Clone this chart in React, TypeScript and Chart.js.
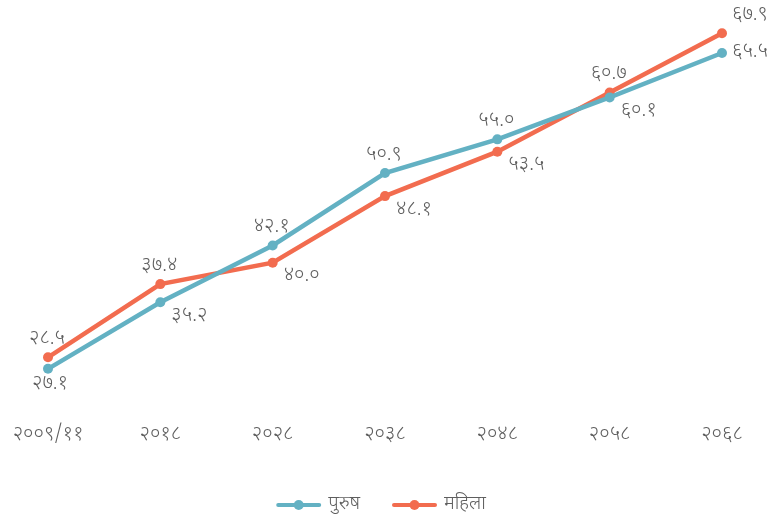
import React, { useEffect, useRef } from "react";
import { Chart, registerables } from "chart.js";

Chart.register(...registerables);

const categories = ["२००९/११", "२०१८", "२०२८", "२०३८", "२०४८", "२०५८", "२०६८"];
const seriesNames = ["पुरुष", "महिला"];
const maleValues = [27.1, 35.2, 42.1, 50.9, 55.0, 60.1, 65.5];
const femaleValues = [28.5, 37.4, 40.0, 48.1, 53.5, 60.7, 67.9];

const TEAL = "#63b1c3";
const ORANGE = "#f26c4f";
const TEXT = "#5e5e5e";
const FONT = "'Noto Sans Devanagari', 'Lohit Devanagari', Lato, 'Noto Sans', sans-serif";

const devDigits = "०१२३४५६७८९";
const toDev = (v: number) =>
  v.toFixed(1).replace(/[0-9]/g, (d) => devDigits[Number(d)]);

const labelPlugin = {
  id: "valueLabels",
  afterDatasetsDraw(chart: any) {
    const ctx = chart.ctx;
    const m0 = chart.getDatasetMeta(0);
    const m1 = chart.getDatasetMeta(1);
    const n = chart.data.labels.length;
    ctx.save();
    ctx.font = `300 20px ${FONT}`;
    ctx.fillStyle = TEXT;
    ctx.textAlign = "center";
    ctx.textBaseline = "middle";
    for (let i = 0; i < n; i++) {
      const p0 = m0.data[i];
      const p1 = m1.data[i];
      const v0 = chart.data.datasets[0].data[i];
      const v1 = chart.data.datasets[1].data[i];
      const hiIs0 = p0.y < p1.y;
      const hi = hiIs0 ? p0 : p1;
      const lo = hiIs0 ? p1 : p0;
      const hv = hiIs0 ? v0 : v1;
      const lv = hiIs0 ? v1 : v0;
      const last = i === n - 1;
      if (last) {
        ctx.fillText(toDev(hv), hi.x + 28, hi.y - 17);
        ctx.fillText(toDev(lv), lo.x + 28, lo.y);
      } else {
        ctx.fillText(toDev(hv), hi.x - 1, hi.y - 17);
        if (i === 0) ctx.fillText(toDev(lv), lo.x + 2, lo.y + 16);
        else ctx.fillText(toDev(lv), lo.x + 29, lo.y + 15);
      }
    }
    ctx.restore();
  },
};

const legendPlugin = {
  id: "customLegend",
  afterDraw(chart: any) {
    const ctx = chart.ctx;
    const ds = chart.data.datasets;
    ctx.save();
    ctx.font = `300 19px ${FONT}`;
    const lineW = 45;
    const gap = 7;
    const itemGap = 32;
    const widths = ds.map((d: any) => lineW + gap + ctx.measureText(d.label).width);
    const total = widths.reduce((a: number, b: number) => a + b, 0) + itemGap * (ds.length - 1);
    let x = chart.width / 2 - total / 2 - 5;
    const y = 505;
    ds.forEach((d: any, i: number) => {
      ctx.strokeStyle = d.borderColor;
      ctx.lineWidth = 4;
      ctx.lineCap = "round";
      ctx.beginPath();
      ctx.moveTo(x + 2, y);
      ctx.lineTo(x + lineW - 2, y);
      ctx.stroke();
      ctx.fillStyle = d.borderColor;
      ctx.beginPath();
      ctx.arc(x + lineW / 2, y, 5, 0, Math.PI * 2);
      ctx.fill();
      ctx.fillStyle = TEXT;
      ctx.textAlign = "left";
      ctx.textBaseline = "middle";
      ctx.fillText(d.label, x + lineW + gap, y);
      x += widths[i] + itemGap;
    });
    ctx.restore();
  },
};

export default function App() {
  const ref = useRef<HTMLCanvasElement>(null);
  useEffect(() => {
    const chart = new Chart(ref.current!, {
      type: "line",
      data: {
        labels: categories,
        datasets: [
          {
            label: seriesNames[0],
            data: maleValues,
            borderColor: TEAL,
            backgroundColor: TEAL,
            borderWidth: 4.5,
            pointRadius: 5,
            pointBackgroundColor: TEAL,
            pointBorderWidth: 0,
            tension: 0,
          },
          {
            label: seriesNames[1],
            data: femaleValues,
            borderColor: ORANGE,
            backgroundColor: ORANGE,
            borderWidth: 4.5,
            pointRadius: 5,
            pointBackgroundColor: ORANGE,
            pointBorderWidth: 0,
            tension: 0,
          },
        ],
      },
      options: {
        animation: false,
        responsive: false,
        layout: { padding: { left: 48, right: 50, top: 16, bottom: 74 } },
        plugins: { legend: { display: false }, tooltip: { enabled: false } },
        scales: {
          x: {
            grid: { display: false },
            border: { display: false },
            ticks: { color: TEXT, font: { family: FONT, size: 20, weight: "300" }, padding: -3, maxRotation: 0, autoSkip: false },
          },
          y: { display: false, min: 21, max: 70 },
        },
      },
      plugins: [labelPlugin, legendPlugin],
    });
    return () => chart.destroy();
  }, []);
  return (
    <canvas
      ref={ref}
      width={772}
      height={519}
      style={{ display: "block", position: "fixed", left: 0, top: 0 }}
    />
  );
}
